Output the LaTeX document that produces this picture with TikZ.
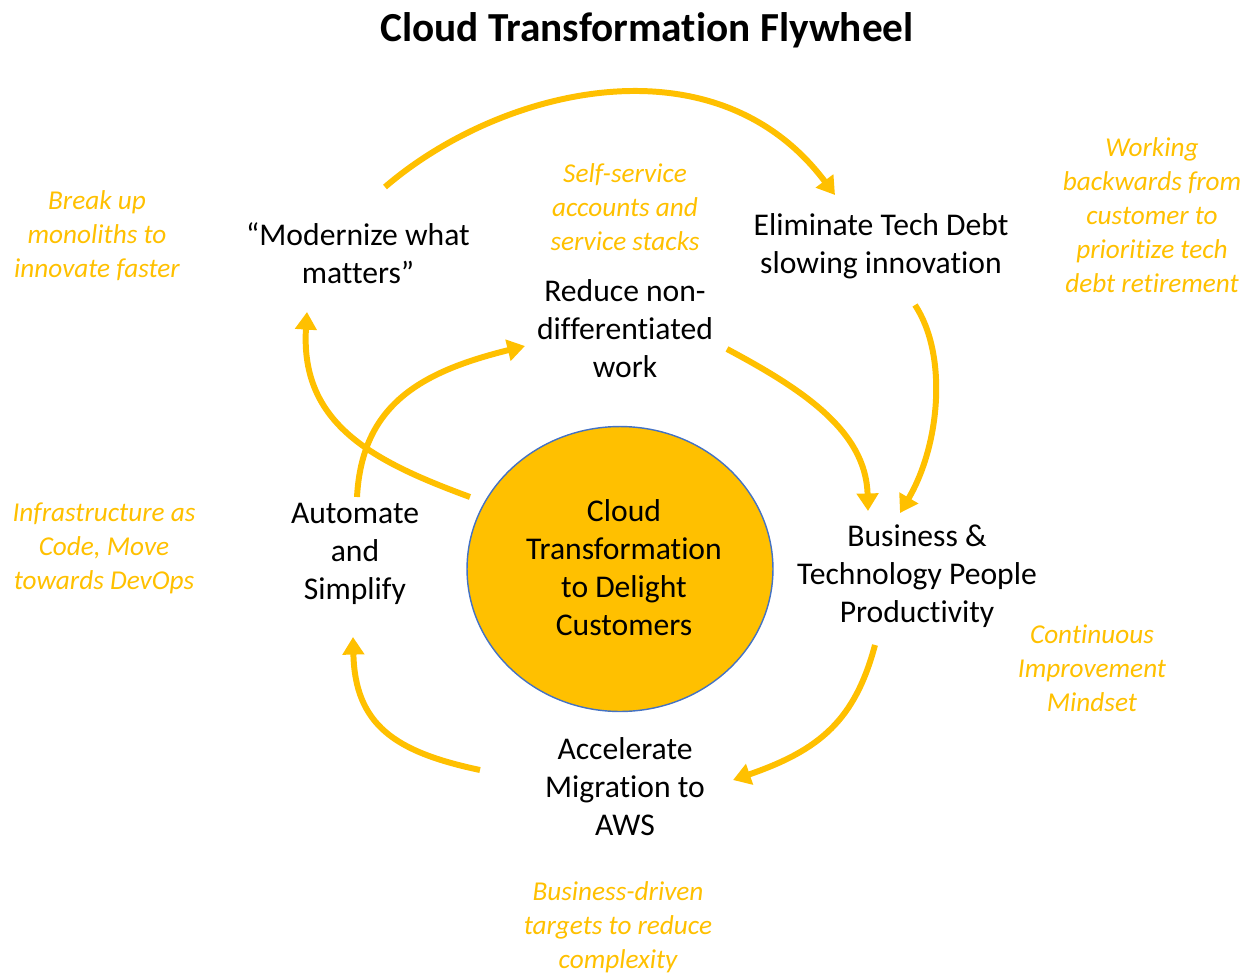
\documentclass[tikz,border=0pt]{standalone}
\usepackage{fontspec}
\setmainfont[Ligatures=NoCommon]{Carlito}
\usetikzlibrary{positioning}
\usetikzlibrary{arrows.meta}
\usetikzlibrary{shapes.geometric}
\definecolor{amber}{RGB}{255,192,0}
\definecolor{rimblue}{RGB}{68,114,196}
\tikzstyle{stage} = [align=center, inner sep=0pt, font=\fontsize{18}{21.6}\selectfont]
\tikzstyle{note} = [align=center, inner sep=0pt, text=amber, font=\fontsize{15.5}{19.4}\selectfont\itshape]
\tikzstyle{hub} = [draw=rimblue, thick, fill=amber, ellipse, inner sep=0pt, minimum width=6.12cm, minimum height=5.7cm]
\tikzstyle{flow} = [draw=amber, line width=3.4pt, -{Triangle[length=10pt,width=12pt]}]
\tikzstyle{heading} = [inner sep=0pt, font=\fontsize{23.5}{28}\selectfont\bfseries]

\begin{document}
\begin{tikzpicture}[x=0.02cm,y=-0.02cm]
    \useasboundingbox (0,0) rectangle (1252,975);
    \node [heading] (title) at (647,30) {Cloud Transformation Flywheel};

    \node [hub] (hub) at (620,569) {};
    \node [stage] (core) at (624,568) {Cloud\\Transformation\\to Delight\\Customers};

    \node [stage] (modernize) at (358,253) {“Modernize what\\matters”};
    \node [stage] (eliminate) at (881,246) {Eliminate Tech Debt\\slowing innovation};
    \node [stage] (reduce) at (625,329) {Reduce non-\\differentiated\\work};
    \node [stage] (automate) at (355,554) {Automate\\and\\Simplify};
    \node [stage] (business) at (917,576) {Business \&\\Technology People\\Productivity};
    \node [stage] (accelerate) at (625,787) {Accelerate\\Migration to\\AWS};

    \node [note] (monoliths) at (97,236) {Break up\\monoliths to\\innovate faster};
    \node [note] (selfservice) at (625,207) {Self-service\\accounts and\\service stacks};
    \node [note] (backwards) at (1152,215) {Working\\backwards from\\customer to\\prioritize tech\\debt retirement};
    \node [note] (iac) at (104,548) {Infrastructure as\\Code, Move\\towards DevOps};
    \node [note] (continuous) at (1092,668) {Continuous\\Improvement\\Mindset};
    \node [note] (targets) at (618,927) {Business-driven\\targets to reduce\\complexity};

    % flywheel arrows
    \coordinate (m1) at (385,187);
    \coordinate (e1) at (835,195);
    \draw [flow] (m1) .. controls (500,88) and (715,35) .. (e1);

    \coordinate (h1) at (470,497);
    \coordinate (m2) at (307,312);
    \draw [flow] (h1) .. controls (375,462) and (300,425) .. (m2);

    \coordinate (a1) at (357,497);
    \coordinate (r1) at (525,346);
    \draw [flow] (a1) .. controls (362,405) and (420,372) .. (r1);

    \coordinate (r2) at (727,349);
    \coordinate (b1) at (868,511);
    \draw [flow] (r2) .. controls (800,388) and (866,430) .. (b1);

    \coordinate (e2) at (915,305);
    \coordinate (b2) at (900,513);
    \draw [flow] (e2) .. controls (948,355) and (940,445) .. (b2);

    \coordinate (b3) at (875,645);
    \coordinate (x1) at (733,780);
    \draw [flow] (b3) .. controls (855,720) and (820,750) .. (x1);

    \coordinate (x2) at (480,770);
    \coordinate (a2) at (353,637);
    \draw [flow] (x2) .. controls (395,752) and (355,725) .. (a2);
\end{tikzpicture}
\end{document}
